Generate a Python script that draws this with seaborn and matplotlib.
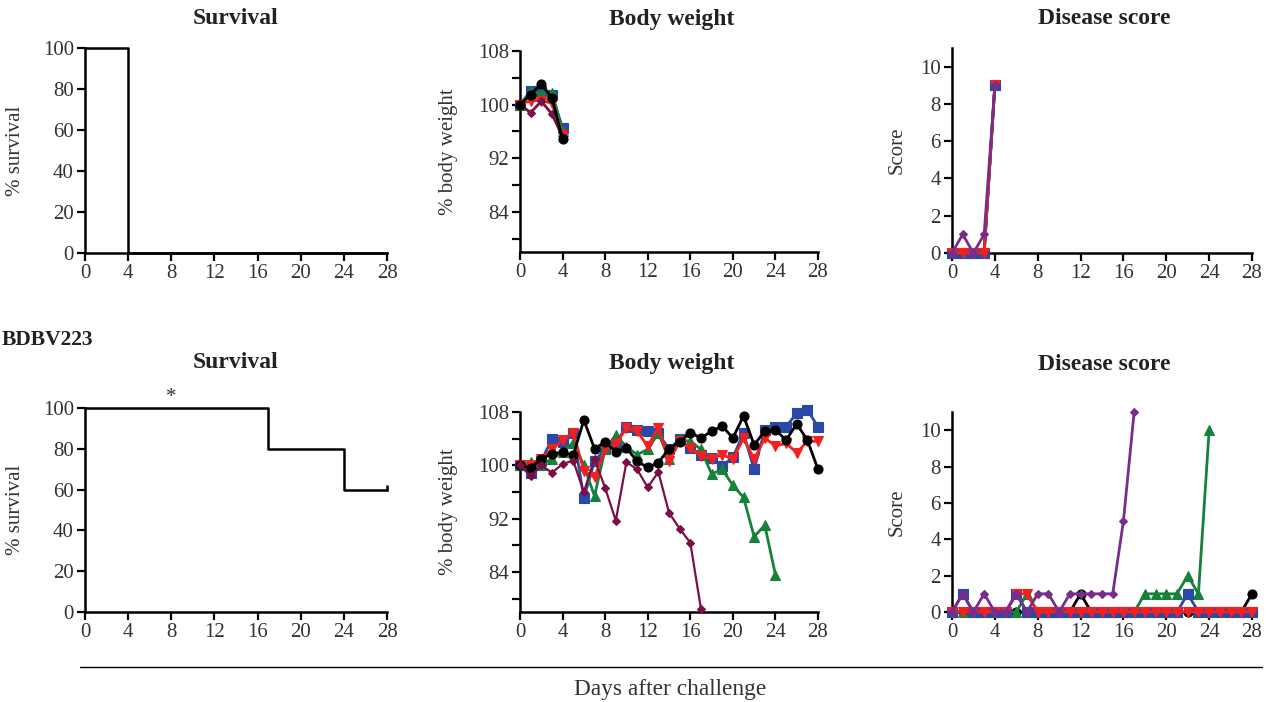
import matplotlib as mpl
import matplotlib.pyplot as plt
import seaborn as sns
from matplotlib.lines import Line2D
from matplotlib.ticker import MultipleLocator

# ---------------------------------------------------------------------------
# Data
# ---------------------------------------------------------------------------
DAY_TICKS = [0, 4, 8, 12, 16, 20, 24, 28]

# top row (control)
SURV_TOP_DAYS = [0, 4, 28]
SURV_TOP = [100, 0, 0]

DAYS_TOP = [0, 1, 2, 3, 4]
BW_TOP_BLACK = [100, 101.5, 103.1, 101.0, 94.8]
BW_TOP_BLUE = [100, 102.0, 102.0, 101.5, 96.5]
BW_TOP_GREEN = [100, 102.0, 101.6, 101.8, 96.0]
BW_TOP_RED = [100, 100.6, 100.6, 100.2, 95.5]
BW_TOP_MAROON = [100, 98.8, 100.5, 98.6, 95.2]

SC_TOP_BLACK = [0, 0, 0, 0, 9]
SC_TOP_BLUE = [0, 0, 0, 0, 9]
SC_TOP_GREEN = [0, 0, 0, 0, 9]
SC_TOP_RED = [0, 0, 0, 0, 9]
SC_TOP_PURPLE = [0, 1, 0, 1, 9]

# bottom row (BDBV223)
SURV_BOT_DAYS = [0, 17, 24, 28]
SURV_BOT = [100, 80, 60, 60]

DAYS_28 = [0, 1, 2, 3, 4, 5, 6, 7, 8, 9, 10, 11, 12, 13, 14,
           15, 16, 17, 18, 19, 20, 21, 22, 23, 24, 25, 26, 27, 28]
DAYS_24 = DAYS_28[:25]
DAYS_17 = DAYS_28[:18]

BW_BOT_BLACK = [100, 99.6, 101.0, 101.7, 102.0, 101.5, 106.8, 102.5, 103.5, 102.0,
                102.6, 100.6, 99.7, 100.4, 102.5, 103.5, 104.9, 104.1, 105.1, 105.9,
                104.1, 107.4, 103.1, 105.1, 105.3, 103.8, 106.2, 103.8, 99.4]
BW_BOT_BLUE = [100, 98.8, 100.7, 103.9, 103.5, 104.9, 95.1, 100.6, 102.5, 103.3,
               105.8, 105.3, 105.1, 104.8, 102.4, 103.9, 102.6, 101.6, 101.1, 99.9,
               101.2, 104.8, 99.4, 105.3, 105.8, 105.8, 107.8, 108.3, 105.8]
BW_BOT_GREEN = [100, 100.5, 100.0, 101.0, 102.0, 103.4, 100.0, 95.4, 102.4, 104.5,
                102.8, 101.6, 102.4, 104.8, 101.0, 103.9, 103.6, 102.4, 98.7, 99.4,
                97.0, 95.2, 89.3, 91.0, 83.6]
BW_BOT_RED = [100, 100.0, 101.0, 102.4, 103.8, 104.9, 99.2, 98.2, 102.4, 103.2,
              105.6, 105.1, 102.9, 105.6, 100.6, 103.6, 102.6, 101.4, 101.0, 101.6,
              100.9, 104.1, 100.9, 104.1, 102.9, 103.3, 101.9, 103.6, 103.6]
BW_BOT_MAROON = [100, 98.4, 100.0, 98.9, 100.2, 100.7, 96.0, 101.0, 96.6, 91.7,
                 100.5, 99.4, 96.7, 99.0, 92.9, 90.5, 88.4, 78.5]

SC_BOT_BLACK = [0, 0, 0, 0, 0, 0, 0, 0, 0, 0, 0, 0, 1, 0, 0,
                0, 0, 0, 0, 0, 0, 0, 0, 0, 0, 0, 0, 0, 1]
SC_BOT_BLUE = [0, 1, 0, 0, 0, 0, 1, 0, 0, 0, 0, 0, 0, 0, 0,
               0, 0, 0, 0, 0, 0, 0, 1, 0, 0, 0, 0, 0, 0]
SC_BOT_GREEN = [0, 0, 0, 0, 0, 0, 0, 1, 0, 0, 0, 0, 0, 0, 0,
                0, 0, 0, 1, 1, 1, 1, 2, 1, 10]
SC_BOT_RED = [0, 0, 0, 0, 0, 0, 1, 1, 0, 0, 0, 0, 0, 0, 0,
              0, 0, 0, 0, 0, 0, 0, 0, 0, 0, 0, 0, 0, 0]
SC_BOT_PURPLE = [0, 1, 0, 1, 0, 0, 1, 0, 1, 1, 0, 1, 1, 1, 1,
                 1, 5, 11]

BLACK = "#000000"
BLUE = "#2A48A6"
GREEN = "#17813A"
RED = "#F2201E"
MAROON = "#7A1046"
PURPLE = "#782C8C"

STYLE = {
    "black": (BLACK, "o", 6.5),
    "blue": (BLUE, "s", 6.5),
    "green": (GREEN, "^", 6.5),
    "red": (RED, "v", 6.5),
    "maroon": (MAROON, "D", 4.5),
    "purple": (PURPLE, "D", 4.5),
}

W, H = 1275, 702
TICK_FS = 15
LABEL_FS = 15
TEXT_C = "#333333"


def _box(left, right, top, bottom):
    return [left / W, 1 - bottom / H, (right - left) / W, (bottom - top) / H]


def _style_axes(ax):
    sns.despine(ax=ax)
    for s in ("left", "bottom"):
        ax.spines[s].set_linewidth(1.8)
        ax.spines[s].set_color("black")
    ax.tick_params(which="both", direction="out", length=6, width=1.6,
                   colors="black", labelcolor=TEXT_C, labelsize=TICK_FS, pad=2)
    ax.set_xlim(0, 28)
    ax.set_xticks(DAY_TICKS)
    ax.grid(False)


def _series(ax, days, values, key, lw=2.0):
    color, marker, ms = STYLE[key]
    sns.lineplot(x=days, y=values, ax=ax, color=color, marker=marker,
                 markersize=ms, markeredgecolor=color, markeredgewidth=0.8,
                 linewidth=lw, clip_on=False, legend=False, zorder=3)


def _survival(ax, days, values, censor=None, star=False):
    sns.lineplot(x=days, y=values, ax=ax, color="black", linewidth=1.8,
                 drawstyle="steps-post", clip_on=False, legend=False)
    if censor is not None:
        ax.plot([censor[0]], [censor[1] + 0.8], marker="|", markersize=4,
                color="black", mew=1.8, clip_on=False)
    if star:
        ax.text(8, 100.5, "*", ha="center", va="bottom", fontsize=15,
                color=TEXT_C)
    _style_axes(ax)
    ax.set_ylim(0, 100)
    ax.set_yticks([0, 20, 40, 60, 80, 100])
    ax.set_ylabel("% survival", fontsize=LABEL_FS, color=TEXT_C)
    ax.yaxis.set_label_coords(-0.198, 0.5)
    ax.set_xlabel("")


def _body_weight(ax):
    _style_axes(ax)
    ax.set_ylim(78, 108)
    ax.set_yticks([84, 92, 100, 108])
    ax.yaxis.set_minor_locator(MultipleLocator(4))
    ax.tick_params(axis="x", which="minor", length=0)
    ax.set_ylabel("% body weight", fontsize=LABEL_FS, color=TEXT_C)
    ax.yaxis.set_label_coords(-0.208, 0.5)
    ax.set_xlabel("")


def _score(ax):
    _style_axes(ax)
    ax.set_ylim(0, 11)
    ax.set_yticks([0, 2, 4, 6, 8, 10])
    ax.set_ylabel("Score", fontsize=LABEL_FS, color=TEXT_C)
    ax.yaxis.set_label_coords(-0.15, 0.5)
    ax.set_xlabel("")


def main():
    sns.set_theme(style="ticks")
    mpl.rcParams["font.family"] = ["Liberation Serif", "DejaVu Serif"]
    mpl.rcParams["text.color"] = "#222222"

    fig = plt.figure(figsize=(W / 100, H / 100), dpi=100, facecolor="white")

    # --- top row ---
    ax = fig.add_axes(_box(85, 387, 48, 253))
    _survival(ax, SURV_TOP_DAYS, SURV_TOP)

    ax = fig.add_axes(_box(520, 818, 51, 252))
    _series(ax, DAYS_TOP, BW_TOP_BLUE, "blue")
    _series(ax, DAYS_TOP, BW_TOP_GREEN, "green")
    _series(ax, DAYS_TOP, BW_TOP_RED, "red")
    _series(ax, DAYS_TOP, BW_TOP_MAROON, "maroon")
    _series(ax, DAYS_TOP, BW_TOP_BLACK, "black")
    _body_weight(ax)

    ax = fig.add_axes(_box(952, 1252, 48, 253))
    _series(ax, DAYS_TOP, SC_TOP_BLACK, "black")
    _series(ax, DAYS_TOP, SC_TOP_GREEN, "green")
    _series(ax, DAYS_TOP, SC_TOP_BLUE, "blue")
    _series(ax, DAYS_TOP, SC_TOP_RED, "red")
    _series(ax, DAYS_TOP, SC_TOP_PURPLE, "purple")
    _score(ax)

    # --- bottom row ---
    ax = fig.add_axes(_box(85, 387, 408, 612))
    _survival(ax, SURV_BOT_DAYS, SURV_BOT, censor=(28, 60), star=True)

    ax = fig.add_axes(_box(520, 818, 412, 612))
    _series(ax, DAYS_28, BW_BOT_BLUE, "blue")
    _series(ax, DAYS_24, BW_BOT_GREEN, "green")
    _series(ax, DAYS_28, BW_BOT_RED, "red")
    _series(ax, DAYS_28, BW_BOT_BLACK, "black")
    _series(ax, DAYS_17, BW_BOT_MAROON, "maroon", lw=1.6)
    _body_weight(ax)

    ax = fig.add_axes(_box(952, 1252, 412, 612))
    _series(ax, DAYS_28, SC_BOT_BLACK, "black")
    _series(ax, DAYS_24, SC_BOT_GREEN, "green")
    _series(ax, DAYS_28, SC_BOT_BLUE, "blue")
    _series(ax, DAYS_28, SC_BOT_RED, "red")
    _series(ax, DAYS_17, SC_BOT_PURPLE, "purple")
    _score(ax)

    # --- titles and labels ---
    title_kw = dict(ha="center", va="center", fontsize=17, fontweight="bold",
                    color="#222222")
    for cx, name in ((236, "Survival"), (672, "Body weight"), (1104, "Disease score")):
        fig.text(cx / W, 1 - 19 / H, name, **title_kw)
    fig.text(236 / W, 1 - 362 / H, "Survival", **title_kw)
    fig.text(672 / W, 1 - 364 / H, "Body weight", **title_kw)
    fig.text(1104 / W, 1 - 364 / H, "Disease score", **title_kw)

    fig.text(2 / W, 1 - 340 / H, "BDBV223", ha="left", va="center",
             fontsize=15.5, fontweight="bold", color="#222222")

    fig.add_artist(Line2D([80 / W, 1262 / W], [1 - 667 / H] * 2,
                          color="black", linewidth=1.0))
    fig.text(670 / W, 1 - 689 / H, "Days after challenge", ha="center",
             va="center", fontsize=16.8, color=TEXT_C)

    fig.savefig("out.png", dpi=100, facecolor="white")
    plt.close(fig)


if __name__ == "__main__":
    main()
